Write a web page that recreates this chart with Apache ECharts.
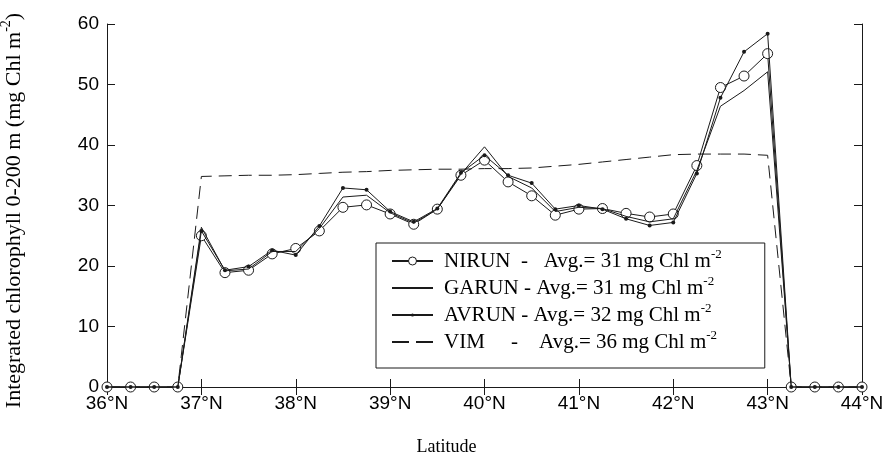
<!DOCTYPE html>
<html>
<head>
<meta charset="utf-8">
<script src="https://cdn.jsdelivr.net/npm/echarts@6/dist/echarts.min.js"></script>
<style>
html,body{margin:0;padding:0;background:#fff;}
#chart{width:889px;height:455px;}
</style>
</head>
<body>
<div id="chart"></div>
<script>
// Latitudes (degrees N)
var latitudes = [36, 36.25, 36.5, 36.75, 37, 37.25, 37.5, 37.75, 38, 38.25, 38.5, 38.75, 39, 39.25, 39.5, 39.75, 40, 40.25, 40.5, 40.75, 41, 41.25, 41.5, 41.75, 42, 42.25, 42.5, 42.75, 43, 43.25, 43.5, 43.75, 44];
var nirun = [0, 0, 0, 0, 25.0, 18.9, 19.3, 22.0, 22.9, 25.8, 29.7, 30.1, 28.6, 26.9, 29.4, 35.0, 37.5, 33.9, 31.6, 28.4, 29.4, 29.5, 28.7, 28.1, 28.6, 36.6, 49.5, 51.4, 55.1, 0, 0, 0, 0];
var garun = [0, 0, 0, 0, 26.4, 19.2, 19.5, 22.4, 22.4, 26.2, 31.4, 31.7, 28.8, 27.1, 29.4, 35.2, 39.7, 34.8, 32.9, 29.0, 29.7, 29.5, 28.2, 27.3, 27.8, 35.8, 46.4, 49.0, 52.1, 0, 0, 0, 0];
var avrun = [0, 0, 0, 0, 25.8, 19.3, 19.9, 22.6, 21.8, 26.6, 32.9, 32.6, 29.0, 27.3, 29.5, 35.4, 38.3, 35.0, 33.7, 29.4, 30.0, 29.4, 27.8, 26.7, 27.2, 35.3, 47.8, 55.4, 58.4, 0, 0, 0, 0];
var vim   = [0, 0, 0, 0, 34.8, 34.9, 35.0, 35.0, 35.1, 35.3, 35.5, 35.6, 35.8, 35.9, 36.0, 36.0, 36.1, 36.1, 36.2, 36.5, 36.8, 37.2, 37.6, 38.0, 38.4, 38.5, 38.5, 38.5, 38.3, 0, 0, 0, 0];
var seriesNames = ['NIRUN', 'GARUN', 'AVRUN', 'VIM'];
var legendTexts = [
  '{t|NIRUN  -   Avg.= 31 mg Chl m}{sup|-2}',
  '{t|GARUN - Avg.= 31 mg Chl m}{sup|-2}',
  '{t|AVRUN - Avg.= 32 mg Chl m}{sup|-2}',
  '{t|VIM     -    Avg.= 36 mg Chl m}{sup|-2}'
];
var yTitle = '{t|Integrated chlorophyll 0-200 m (mg Chl m}{sup|-2}{t|)}';
var xTicks = [36, 37, 38, 39, 40, 41, 42, 43, 44];
var yTicks = [0, 10, 20, 30, 40, 50, 60];

function pairs(vals) {
  return latitudes.map(function (l, i) { return [l, vals[i]]; });
}

var ink = '#1a1a1a';
// small dot centred in a 10x10 box (moveTo points set the box)
var dotPath = 'path://M0,0 M10,10 M3,5 A2,2 0 1,1 7,5 A2,2 0 1,1 3,5 Z';
var chart = echarts.init(document.getElementById('chart'), null, {renderer: 'canvas'});

var axisCommon = {
  axisLine: {show: true, lineStyle: {color: ink, width: 1}},
  axisTick: {show: true, inside: true, length: 8, lineStyle: {color: ink}},
  splitLine: {show: false}
};

var option = {
  backgroundColor: '#fff',
  animation: false,
  grid: {left: 107, right: 27, top: 24, bottom: 68, containLabel: false, outerBoundsMode: 'none'},
  legend: {
    orient: 'vertical',
    left: 376, top: 243,
    padding: [5, 43, 15, 15],
    itemWidth: 41, itemHeight: 10, itemGap: 3,
    backgroundColor: '#fff',
    borderColor: ink, borderWidth: 1,
    selectedMode: false,
    itemStyle: {borderWidth: 1},
    formatter: function (name) { return legendTexts[seriesNames.indexOf(name)]; },
    textStyle: {
      fontFamily: 'Liberation Serif', fontSize: 21, color: '#000', lineHeight: 22,
      padding: [0, 0, 0, 6],
      rich: {
        t: {fontFamily: 'Liberation Serif', fontSize: 21, color: '#000', lineHeight: 22, verticalAlign: 'bottom'},
        sup: {fontFamily: 'Liberation Serif', fontSize: 13, color: '#000', lineHeight: 10, verticalAlign: 'bottom', padding: [0, 0, 11, 0]}
      }
    },
    data: [
      {name: 'NIRUN'},
      {name: 'GARUN', itemStyle: {opacity: 0}},
      {name: 'AVRUN'},
      {name: 'VIM', itemStyle: {opacity: 0}, lineStyle: {type: [17, 7]}}
    ]
  },
  xAxis: [
    Object.assign({
      type: 'value', min: 36, max: 44, interval: 1, position: 'bottom',
      name: 'Latitude', nameLocation: 'middle', nameGap: 51,
      nameTextStyle: {fontFamily: 'Liberation Serif', fontSize: 18, color: '#000', padding: [0, 76, 0, 0]},
      axisLabel: {
        margin: 7, fontFamily: 'Liberation Sans', fontSize: 19, color: '#000',
        formatter: function (v) { return xTicks.indexOf(v) >= 0 ? v + '°N' : ''; }
      }
    }, axisCommon),
    Object.assign({
      type: 'value', min: 36, max: 44, interval: 1, position: 'top',
      axisLabel: {show: false}
    }, axisCommon)
  ],
  yAxis: [
    Object.assign({
      type: 'value', min: 0, max: 60, interval: 10, position: 'left',
      name: yTitle,
      nameLocation: 'middle', nameGap: 82,
      nameTextStyle: {
        fontFamily: 'Liberation Serif', fontSize: 22, color: '#000',
        padding: [0, 10, 0, 0],
        rich: {
          t: {fontFamily: 'Liberation Serif', fontSize: 22, color: '#000', lineHeight: 24, verticalAlign: 'bottom'},
          sup: {fontFamily: 'Liberation Serif', fontSize: 14, color: '#000', lineHeight: 11, verticalAlign: 'bottom', padding: [0, 0, 12, 0]}
        }
      },
      axisLabel: {
        margin: 8, fontFamily: 'Liberation Sans', fontSize: 19, color: '#000',
        formatter: function (v) { return yTicks.indexOf(v) >= 0 ? String(v) : ''; }
      }
    }, axisCommon),
    Object.assign({
      type: 'value', min: 0, max: 60, interval: 10, position: 'right',
      axisLabel: {show: false}
    }, axisCommon)
  ],
  series: [
    {
      name: 'NIRUN', type: 'line', data: pairs(nirun), clip: false,
      symbol: 'circle', symbolSize: 10, showAllSymbol: true,
      itemStyle: {color: '#fff', borderColor: ink, borderWidth: 1},
      lineStyle: {color: ink, width: 1},
      emphasis: {disabled: true}, z: 2
    },
    {
      name: 'GARUN', type: 'line', data: pairs(garun), clip: false,
      symbol: 'none',
      itemStyle: {color: ink},
      lineStyle: {color: ink, width: 1},
      emphasis: {disabled: true}, z: 3
    },
    {
      name: 'AVRUN', type: 'line', data: pairs(avrun), clip: false,
      symbol: dotPath, symbolSize: 10, showAllSymbol: true,
      itemStyle: {color: ink, borderWidth: 0},
      lineStyle: {color: ink, width: 1},
      emphasis: {disabled: true}, z: 4
    },
    {
      name: 'VIM', type: 'line', data: pairs(vim), clip: false,
      symbol: 'none',
      itemStyle: {color: ink},
      lineStyle: {color: ink, width: 1, type: [13, 7]},
      emphasis: {disabled: true}, z: 1
    }
  ]
};
chart.setOption(option);
</script>
</body>
</html>
